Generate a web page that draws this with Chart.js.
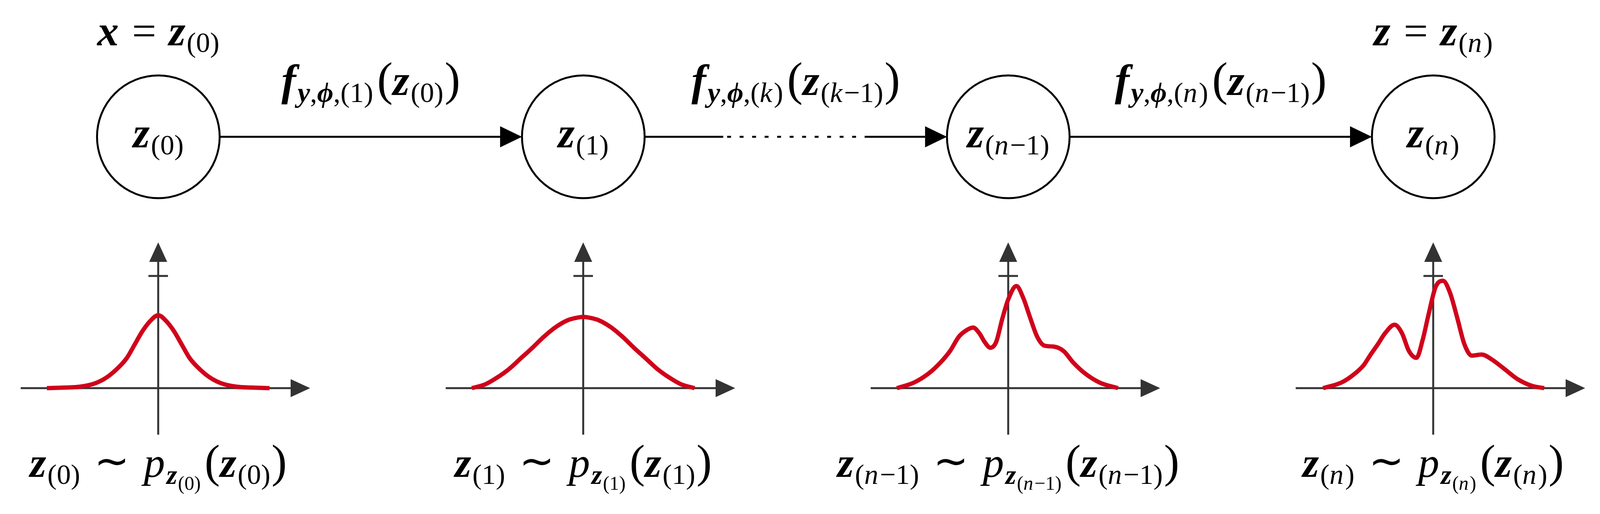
<!DOCTYPE html>
<html>
<head>
<meta charset="utf-8">
<script src="https://cdn.jsdelivr.net/npm/chart.js@4.4.1/dist/chart.umd.min.js"></script>
<style>
  html, body { margin: 0; padding: 0; background: #fff; }
  #wrap { position: relative; width: 4137px; height: 1315px; overflow: hidden; }
  canvas { position: absolute; }
</style>
</head>
<body>
<div id="wrap"><canvas id="flow" width="4137" height="1315" style="left:0;top:0"></canvas></div>
<script>
// flow nodes z_(0) ... z_(n)
const nodePos = [0, 1, 2, 3];
const nodeIdx = ['0', '1', 'n−1', 'n'];
// transforms between nodes
const stepIdx = ['1', 'k', 'n'];
const stepArg = ['0', 'k−1', 'n−1'];
const endLetters = ['x', 'z'];

// densities under each node (x, height relative to the tick at 1)
const dens0X = [-2.85, -2.4, -2.0, -1.6, -1.3, -1.0, -0.8, -0.6, -0.4, -0.2, 0, 0.2, 0.4, 0.6, 0.8, 1.0, 1.3, 1.6, 2.0, 2.4, 2.85];
const dens0Y = [0, 0.005, 0.013, 0.045, 0.10, 0.19, 0.27, 0.39, 0.51, 0.60, 0.65, 0.60, 0.51, 0.39, 0.27, 0.19, 0.10, 0.045, 0.013, 0.005, 0];
const dens1X = [-2.85, -2.5, -2.2, -1.9, -1.6, -1.3, -1.0, -0.7, -0.4, -0.2, 0, 0.2, 0.4, 0.7, 1.0, 1.3, 1.6, 1.9, 2.2, 2.5, 2.85];
const dens1Y = [0, 0.035, 0.095, 0.17, 0.265, 0.36, 0.46, 0.545, 0.605, 0.625, 0.635, 0.625, 0.605, 0.545, 0.46, 0.36, 0.265, 0.17, 0.095, 0.035, 0];
const densN1X = [-2.85, -2.41, -2.04, -1.73, -1.49, -1.26, -1.05, -0.90, -0.74, -0.60, -0.46, -0.31, -0.15, 0, 0.21, 0.39, 0.55, 0.74, 0.92, 1.17, 1.42, 1.66, 1.97, 2.34, 2.81];
const densN1Y = [0, 0.05, 0.13, 0.23, 0.33, 0.46, 0.52, 0.54, 0.49, 0.41, 0.36, 0.41, 0.62, 0.79, 0.91, 0.80, 0.64, 0.46, 0.38, 0.37, 0.33, 0.23, 0.13, 0.05, 0];
const densNX = [-2.82, -2.35, -2.04, -1.79, -1.60, -1.42, -1.23, -0.99, -0.80, -0.62, -0.43, -0.27, -0.12, 0.06, 0.25, 0.43, 0.62, 0.80, 0.99, 1.24, 1.48, 1.79, 2.16, 2.53, 2.84];
const densNY = [0, 0.05, 0.12, 0.20, 0.30, 0.39, 0.49, 0.565, 0.49, 0.33, 0.27, 0.43, 0.655, 0.90, 0.957, 0.85, 0.62, 0.39, 0.29, 0.30, 0.26, 0.18, 0.08, 0.02, 0];
const densX = [dens0X, dens1X, densN1X, densNX];
const densY = [dens0Y, dens1Y, densN1Y, densNY];

// mini axes
const axisXSpan = [-3.52, 3.89];
const axisYSpan = [-0.415, 1.30];
const tickY = 1;

const FONT = '"Liberation Serif"';
const R = 157;

function fontOf(style, size) {
  return (style === 'bi' ? 'italic bold ' : style === 'i' ? 'italic ' : '') + size + 'px ' + FONT;
}

// parts: [text, style, size, dy] or a number = extra gap
function drawMath(ctx, parts, cx, baseline) {
  let w = 0;
  const widths = parts.map(p => {
    if (typeof p === 'number') { w += p; return p; }
    ctx.font = fontOf(p[1], p[2]);
    const pw = ctx.measureText(p[0]).width;
    w += pw;
    return pw;
  });
  let x = cx - w / 2;
  parts.forEach((p, i) => {
    if (typeof p !== 'number') {
      ctx.font = fontOf(p[1], p[2]);
      ctx.fillText(p[0], x, baseline + (p[3] || 0));
    }
    x += widths[i];
  });
}

function idxParts(s, size, dy) {
  const out = [['(', 'r', size, dy]];
  for (const ch of s) {
    const it = /[a-z]/.test(ch);
    out.push([ch, it ? 'i' : 'r', size, dy]);
    if (it) out.push(Math.round(size * 0.05));
  }
  out.push([')', 'r', size, dy]);
  return out;
}
function zParts(letter, s, size, subSize, dy0, dy1) {
  return [[letter, 'bi', size, dy0], 3, ...idxParts(s, subSize, dy1)];
}

function arrow(ctx, x1, x2, y, dotted) {
  const head = 56, half = 27;
  const end = x2 - head;
  ctx.save();
  ctx.strokeStyle = '#000';
  ctx.fillStyle = '#000';
  ctx.lineWidth = 5;
  if (dotted) {
    const L = x2 - x1;
    const a = x1 + 0.26 * L, b = x1 + 0.74 * L;
    ctx.beginPath(); ctx.moveTo(x1, y); ctx.lineTo(a, y); ctx.stroke();
    ctx.setLineDash([10, 22]);
    ctx.beginPath(); ctx.moveTo(a + 10, y); ctx.lineTo(b, y); ctx.stroke();
    ctx.setLineDash([]);
    ctx.beginPath(); ctx.moveTo(b, y); ctx.lineTo(end, y); ctx.stroke();
  } else {
    ctx.beginPath(); ctx.moveTo(x1, y); ctx.lineTo(end + 2, y); ctx.stroke();
  }
  ctx.beginPath();
  ctx.moveTo(x2, y); ctx.lineTo(end, y - half); ctx.lineTo(end, y + half); ctx.closePath();
  ctx.fill();
  ctx.restore();
}

const flowPlugin = {
  id: 'flowDecor',
  beforeDatasetsDraw(chart) {
    const ctx = chart.ctx, sx = chart.scales.x, sy = chart.scales.y;
    const y = sy.getPixelForValue(0);
    for (let i = 0; i < stepIdx.length; i++) {
      const a = sx.getPixelForValue(nodePos[i]) + R;
      const b = sx.getPixelForValue(nodePos[i + 1]) - R;
      arrow(ctx, a, b, y, stepIdx[i] === 'k');
    }
  },
  afterDatasetsDraw(chart) {
    const ctx = chart.ctx, sx = chart.scales.x, sy = chart.scales.y;
    const y = sy.getPixelForValue(0);
    ctx.save();
    ctx.fillStyle = '#000';
    ctx.textBaseline = 'alphabetic';
    const px = nodePos.map(v => sx.getPixelForValue(v));
    // labels inside nodes
    nodeIdx.forEach((s, i) => drawMath(ctx, zParts('z', s, 110, 72, 0, 18), px[i], y + 27));
    // x = z_(0) and z = z_(n)
    const ends = [0, nodePos.length - 1];
    ends.forEach((n, k) => {
      drawMath(ctx, [[endLetters[k], 'bi', 110, 0], 34, ['=', 'r', 110, 0], 32,
        ...zParts('z', nodeIdx[n], 110, 72, 0, 17)], px[n], 116);
    });
    // transform labels
    stepIdx.forEach((s, i) => {
      const mid = (px[i] + px[i + 1]) / 2;
      drawMath(ctx, [['f', 'bi', 112, 0], 4, ['y', 'bi', 72, 18], [',', 'r', 72, 18], ['ϕ', 'bi', 72, 18], [',', 'r', 72, 18],
        ...idxParts(s, 72, 18), 10, ['(', 'r', 120, 0], ...zParts('z', stepArg[i], 110, 72, 0, 18), 3, [')', 'r', 120, 0]], mid, 243);
    });
    // density labels
    nodeIdx.forEach((s, i) => {
      drawMath(ctx, [...zParts('z', s, 108, 72, 0, 18), 36, ['∼', 'r', 108, -4], 36, ['p', 'i', 108, 0], 4,
        ['z', 'bi', 70, 18], 2, ...idxParts(s, 50, 33), 10, ['(', 'r', 118, 0], ...zParts('z', s, 108, 72, 0, 18), 3, [')', 'r', 118, 0]],
        px[i], 1220);
    });
    ctx.restore();
  }
};

const flow = new Chart(document.getElementById('flow'), {
  type: 'scatter',
  data: {
    datasets: [{
      data: nodePos.map(v => ({ x: v, y: 0 })),
      pointRadius: R, pointHoverRadius: R,
      borderWidth: 5, pointHoverBorderWidth: 5,
      borderColor: '#000', backgroundColor: '#fff'
    }]
  },
  options: {
    responsive: false, animation: false, devicePixelRatio: 1, events: [],
    layout: { padding: 0, autoPadding: false },
    plugins: { legend: { display: false }, tooltip: { enabled: false } },
    scales: {
      x: { type: 'linear', display: false, min: -0.3726, max: 3.4301 },
      y: { type: 'linear', display: false, min: -2.757, max: 1 }
    }
  },
  plugins: [flowPlugin]
});

// arrowed axes for the small density plots
const axesPlugin = {
  id: 'miniAxes',
  beforeDatasetsDraw(chart) {
    const ctx = chart.ctx, sx = chart.scales.x, sy = chart.scales.y;
    const x0 = sx.getPixelForValue(0), y0 = sy.getPixelForValue(0);
    const xa = sx.getPixelForValue(axisXSpan[0]), xb = sx.getPixelForValue(axisXSpan[1]);
    const ya = sy.getPixelForValue(axisYSpan[0]), yb = sy.getPixelForValue(axisYSpan[1]);
    const yt = sy.getPixelForValue(tickY);
    const head = 50, half = 23;
    ctx.save();
    ctx.strokeStyle = '#333';
    ctx.fillStyle = '#333';
    ctx.lineWidth = 5;
    ctx.beginPath();
    ctx.moveTo(xa, y0); ctx.lineTo(xb - head + 2, y0);
    ctx.moveTo(x0, ya); ctx.lineTo(x0, yb + head - 2);
    ctx.moveTo(x0 - 25, yt); ctx.lineTo(x0 + 25, yt);
    ctx.stroke();
    ctx.beginPath();
    ctx.moveTo(xb, y0); ctx.lineTo(xb - head, y0 - half); ctx.lineTo(xb - head, y0 + half); ctx.closePath();
    ctx.fill();
    ctx.beginPath();
    ctx.moveTo(x0, yb); ctx.lineTo(x0 - half, yb + head); ctx.lineTo(x0 + half, yb + head); ctx.closePath();
    ctx.fill();
    ctx.restore();
  }
};

const wrap = document.getElementById('wrap');
densX.forEach((xs, i) => {
  const cv = document.createElement('canvas');
  cv.width = 800; cv.height = 530;
  const px = flow.scales.x.getPixelForValue(nodePos[i]);
  cv.style.left = Math.round(px - 382) + 'px';
  cv.style.top = '600px';
  wrap.appendChild(cv);
  new Chart(cv, {
    type: 'scatter',
    data: {
      datasets: [{
        data: xs.map((x, j) => ({ x: x, y: densY[i][j] })),
        showLine: true, pointRadius: 0, borderColor: '#d0021b', borderWidth: 11,
        cubicInterpolationMode: 'monotone', clip: false
      }]
    },
    options: {
      responsive: false, animation: false, devicePixelRatio: 1, events: [],
      layout: { padding: 0, autoPadding: false },
      plugins: { legend: { display: false }, tooltip: { enabled: false } },
      scales: {
        x: { type: 'linear', display: false, min: -3.82, max: 4.18 },
        y: { type: 'linear', display: false, min: -0.4774, max: 1.3693 }
      }
    },
    plugins: [axesPlugin]
  });
});
</script>
</body>
</html>
